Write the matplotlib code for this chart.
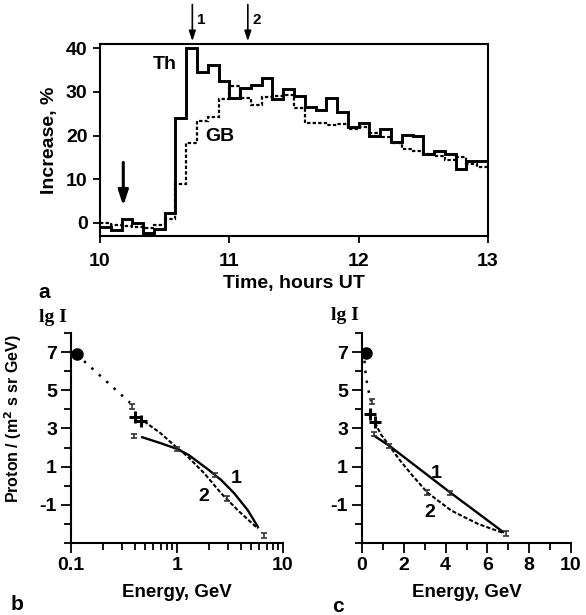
import matplotlib
matplotlib.use("Agg")
import matplotlib.pyplot as plt
import numpy as np

plt.rcParams['font.family'] = ['Liberation Sans', 'DejaVu Sans']
plt.rcParams['font.weight'] = 'bold'
plt.rcParams['axes.unicode_minus'] = False

# panel a: 5-minute increases, 10:00 - 13:00 UT
t_start = 10.0
t_step = 5 / 60
th_vals = [-1.0, -1.7, 0.8, 0.0, -2.2, -1.5, 2.3, 24.0, 40.1, 34.6, 36.3, 32.5,
           28.7, 31.0, 31.6, 33.3, 28.5, 30.7, 29.0, 26.5, 25.8, 28.6, 25.4, 21.9,
           22.8, 19.9, 21.5, 18.6, 20.1, 19.9, 15.9, 16.4, 15.9, 12.3, 14.3, 14.3]
gb_vals = [0.0, -0.5, -0.8, -1.0, -1.2, -0.5, 1.0, 9.0, 18.4, 23.4, 24.3, 28.4,
           31.3, 28.6, 27.0, 28.9, 29.0, 29.4, 26.3, 22.9, 22.8, 22.4, 22.6, 21.6,
           22.0, 20.6, 19.7, 18.2, 17.0, 16.5, 15.7, 15.3, 14.5, 15.1, 13.6, 12.7]
arrow_times = [10.714, 11.143]
arrow_labels = ['1', '2']
onset_time = 10.18

# panel b: spectrum, log energy axis
b_dot = (0.113, 6.88)
b_dotted_E = [0.113, 0.36]
b_dotted_y = [6.88, 4.35]
b_err_E = [0.377, 0.39, 1.0, 2.3, 2.95, 6.6]
b_err_y = [4.15, 2.6, 1.93, 0.57, -0.66, -2.6]
b_cross_E = [0.405, 0.46]
b_cross_y = [3.62, 3.4]
b_c1_E = [0.47, 0.70, 1.0, 1.29, 2.0, 2.61, 3.47, 4.65, 5.8]
b_c1_y = [2.54, 2.23, 1.93, 1.61, 0.82, 0.30, -0.40, -1.28, -2.16]
b_c2_E = [0.49, 0.70, 0.93, 1.26, 1.81, 2.61, 3.74, 5.8]
b_c2_y = [3.37, 2.75, 2.14, 1.53, 0.65, -0.40, -1.28, -2.25]

# panel c: spectrum, linear energy axis
c_dot = (0.17, 6.93)
c_dotted_E = [0.12, 0.14, 0.19, 0.24, 0.35, 0.43]
c_dotted_y = [6.55, 6.18, 5.75, 5.39, 4.77, 4.42]
c_err_E = [0.46, 0.59, 1.31, 3.12, 4.19, 6.91]
c_err_y = [4.42, 2.72, 2.09, -0.35, -0.37, -2.51]
c_cross_E = [0.38, 0.6]
c_cross_y = [3.78, 3.35]
c_c1_E = [0.59, 1.31, 4.19, 6.75]
c_c1_y = [2.61, 2.09, -0.33, -2.42]
c_c2_E = [0.62, 0.9, 1.31, 1.8, 2.4, 3.12, 4.27, 5.55, 6.75]
c_c2_y = [3.3, 2.7, 2.09, 1.35, 0.55, -0.35, -1.3, -2.0, -2.47]

fig = plt.figure(figsize=(5.86, 6.15), dpi=100)
W, H = 586, 615

def box(l, t, r, b):
    return [l / W, 1 - b / H, (r - l) / W, (b - t) / H]

# ---------- panel a ----------
ax = fig.add_axes(box(100, 44, 488, 236))
edges = t_start + t_step * np.arange(len(th_vals) + 1)
ax.stairs(th_vals, edges, color='black', lw=2.1, baseline=None)
ax.stairs(gb_vals, edges, color='black', lw=1.6, ls=(0, (1.5, 1)), baseline=None)
ax.set_xlim(10, 13)
ax.set_ylim(-3, 41)
ax.set_xticks([10, 11, 12, 13])
ax.set_yticks([0, 10, 20, 30, 40])
ax.tick_params(direction='out', length=5, width=1.3, labelsize=14, pad=4)
ax.tick_params(axis='x', pad=7)
for s in ax.spines.values():
    s.set_linewidth(1.5)
ax.set_xlabel('Time, hours UT', fontsize=14, fontweight='bold', labelpad=4)
ax.set_ylabel('Increase, %', fontsize=14, fontweight='bold', labelpad=6)
ax.text(10.5, 36.2, 'Th', fontsize=14, fontweight='bold', ha='center', va='center')
ax.text(10.93, 19.7, 'GB', fontsize=14, fontweight='bold', ha='center', va='center')
ax.annotate('', xy=(onset_time, 3.3), xytext=(onset_time, 14.5),
            arrowprops=dict(arrowstyle='-|>,head_length=0.9,head_width=0.3',
                            color='black', lw=2.2))
for tt, lab in zip(arrow_times, arrow_labels):
    ax.annotate('', xy=(tt, 1.0), xytext=(tt, 1.22),
                xycoords=('data', 'axes fraction'),
                textcoords=('data', 'axes fraction'),
                arrowprops=dict(arrowstyle='-|>,head_length=0.6,head_width=0.2',
                                color='black', lw=1.2), annotation_clip=False)
    ax.text(tt + 0.035, 1.125, lab, transform=ax.get_xaxis_transform(),
            fontsize=11, fontweight='bold', ha='left', va='center')
fig.text(44 / W, 1 - 293 / H, 'a', fontsize=15, fontweight='bold', ha='center', va='center')


def spectrum(ax, dot, dE, dy, eE, ey, xE, xy, c1E, c1y, c2E, c2y):
    ax.plot(dE, dy, color='black', lw=1.8, ls=(0, (1, 3)))
    ax.plot(c1E, c1y, color='black', lw=1.7)
    ax.plot(c2E, c2y, color='black', lw=1.5, ls=(0, (2, 1)))
    ax.errorbar(eE, ey, yerr=0.12, fmt='none', ecolor='#333333', elinewidth=1.2,
                capsize=2, capthick=1.2)
    ax.plot(xE, xy, '+', color='black', ms=8, mew=2.2)
    ax.plot([dot[0]], [dot[1]], 'o', color='black', ms=8)
    ax.set_ylim(-3, 8)
    ax.set_yticks([-1, 1, 3, 5, 7])
    ax.set_yticks(range(-3, 9), minor=True)
    ax.spines['top'].set_visible(False)
    ax.spines['right'].set_visible(False)
    for s in ('left', 'bottom'):
        ax.spines[s].set_linewidth(1.5)
    ax.tick_params(which='both', direction='out', width=1.3, labelsize=14, pad=3)
    ax.tick_params(which='major', length=7)
    ax.tick_params(which='minor', length=5)
    ax.set_xlabel('Energy, GeV', fontsize=13.5, fontweight='bold', labelpad=7)


# ---------- panel b ----------
axb = fig.add_axes(box(71, 333, 283, 543))
axb.set_xscale('log')
spectrum(axb, b_dot, b_dotted_E, b_dotted_y, b_err_E, b_err_y, b_cross_E, b_cross_y,
         b_c1_E, b_c1_y, b_c2_E, b_c2_y)
axb.set_xlim(0.1, 10)
axb.set_xticks([0.1, 1, 10])
axb.set_xticklabels(['0.1', '1', '10'])
axb.text(3.6, 0.39, '1', fontsize=14, fontweight='bold', ha='center', va='center')
axb.text(1.8, -0.58, '2', fontsize=14, fontweight='bold', ha='center', va='center')
fig.text(53 / W, 1 - 318 / H, 'lg I', family='Liberation Serif', fontsize=14,
         fontweight='bold', ha='center', va='center')
fig.text(13 / W, 1 - 419 / H, 'Proton / (m$^2$ s sr GeV)', fontsize=11.5,
         fontweight='bold', rotation=90, ha='center', va='center')
fig.text(17 / W, 1 - 605 / H, 'b', fontsize=15, fontweight='bold', ha='center', va='center')

# ---------- panel c ----------
axc = fig.add_axes(box(362, 333, 571, 543))
spectrum(axc, c_dot, c_dotted_E, c_dotted_y, c_err_E, c_err_y, c_cross_E, c_cross_y,
         c_c1_E, c_c1_y, c_c2_E, c_c2_y)
axc.set_xlim(0, 10)
axc.set_xticks([0, 2, 4, 6, 8, 10])
axc.set_xticks(range(0, 11), minor=True)
axc.text(3.55, 0.65, '1', fontsize=14, fontweight='bold', ha='center', va='center')
axc.text(3.23, -1.42, '2', fontsize=14, fontweight='bold', ha='center', va='center')
fig.text(345 / W, 1 - 316 / H, 'lg I', family='Liberation Serif', fontsize=14,
         fontweight='bold', ha='center', va='center')
fig.text(338 / W, 1 - 607 / H, 'c', fontsize=15, fontweight='bold', ha='center', va='center')

fig.savefig('out.png', dpi=100)
